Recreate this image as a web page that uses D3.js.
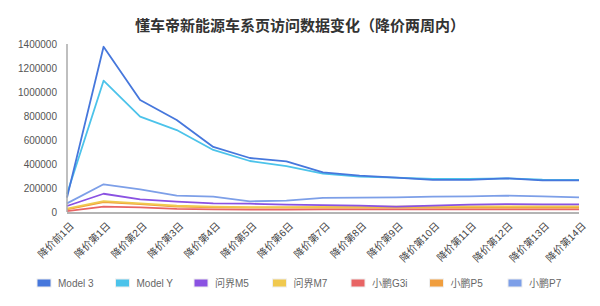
<!DOCTYPE html>
<html>
<head>
<meta charset="utf-8">
<title>懂车帝新能源车系页访问数据变化</title>
<script src="https://cdnjs.cloudflare.com/ajax/libs/d3/7.8.5/d3.min.js"></script>
<style>
body { margin: 0; background: #fff; font-family: "Liberation Sans", "Noto Sans CJK SC", sans-serif; }
.line { fill: none; stroke-width: 1.8px; stroke-linejoin: round; }
</style>
</head>
<body>
<script>
// categories (x axis)
var days = ["降价前1日", "降价第1日", "降价第2日", "降价第3日", "降价第4日", "降价第5日", "降价第6日",
    "降价第7日", "降价第8日", "降价第9日", "降价第10日", "降价第11日", "降价第12日", "降价第13日", "降价第14日"];

var yTicks = [0, 200000, 400000, 600000, 800000, 1000000, 1200000, 1400000];

var seriesNames = ["Model 3", "Model Y", "问界M5", "问界M7", "小鹏G3i", "小鹏P5", "小鹏P7"];
var colors = ["#4677dc", "#4cc3ea", "#8a52e2", "#f0c94f", "#e86464", "#f09e3e", "#7d9fe8"];

var model3 = [120000, 1377000, 933000, 767000, 542000, 450000, 422000, 331000, 303000, 286000, 267000, 267000, 281000, 264000, 264000];
var modelY = [150000, 1094000, 794000, 683000, 517000, 425000, 383000, 319000, 294000, 286000, 275000, 275000, 281000, 270000, 267000];
var m5 = [50000, 152000, 106000, 86000, 72000, 69000, 61000, 58000, 53000, 44000, 53000, 61000, 66000, 64000, 64000];
var m7 = [28000, 90000, 72000, 52000, 44000, 40000, 40000, 42000, 42000, 44000, 46000, 47000, 47000, 47000, 47000];
var g3i = [8000, 44000, 38000, 26000, 22000, 20000, 20000, 22000, 22000, 22000, 22000, 22000, 22000, 22000, 22000];
var p5 = [22000, 83000, 65000, 45000, 38000, 36000, 36000, 36000, 36000, 36000, 36000, 36000, 36000, 36000, 36000];
var p7 = [72000, 231000, 189000, 136000, 128000, 89000, 94000, 117000, 120000, 122000, 128000, 131000, 136000, 131000, 122000];

var seriesValues = [model3, modelY, m5, m7, g3i, p5, p7];

var W = 600, H = 306;
var margin = { top: 44, right: 21, bottom: 94, left: 67 };
var width = W - margin.left - margin.right,
    height = H - margin.top - margin.bottom;

var svg = d3.select("body").append("svg")
    .attr("width", W)
    .attr("height", H);

svg.append("text")
    .attr("x", 300)
    .attr("y", 31)
    .attr("text-anchor", "middle")
    .style("font-family", "'Noto Sans CJK SC', sans-serif")
    .style("font-size", "15px")
    .style("font-weight", "bold")
    .style("fill", "#333")
    .text("懂车帝新能源车系页访问数据变化（降价两周内）");

var g = svg.append("g")
    .attr("transform", "translate(" + margin.left + "," + margin.top + ")");

var x = d3.scalePoint().domain(days).range([0, width]);
var y = d3.scaleLinear().domain([0, 1400000]).range([height, 0]);

// y axis labels
g.selectAll(".ylab").data(yTicks).enter().append("text")
    .attr("class", "ylab")
    .attr("x", -10)
    .attr("y", function(d) { return y(d); })
    .attr("dy", "0.35em")
    .attr("text-anchor", "end")
    .style("font-size", "10px")
    .style("fill", "#555")
    .text(function(d) { return d; });

// x axis labels (rotated)
g.selectAll(".xlab").data(days).enter().append("text")
    .attr("class", "xlab")
    .attr("transform", function(d) { return "translate(" + (x(d) + 5) + "," + (height + 12) + ") rotate(-45)"; })
    .attr("text-anchor", "end")
    .attr("dy", "0.35em")
    .style("font-size", "10px")
    .style("fill", "#444")
    .text(function(d) { return d; });

var line = d3.line()
    .x(function(d, i) { return x(days[i]); })
    .y(function(d) { return y(d); });

// draw from bottom to top so the big series sit on top
var order = [4, 5, 3, 2, 6, 1, 0];
order.forEach(function(k) {
    g.append("path")
        .attr("class", "line")
        .attr("d", line(seriesValues[k]))
        .style("stroke", colors[k]);
});

// axis lines
g.append("line")
    .attr("x1", 0).attr("x2", 0)
    .attr("y1", 0).attr("y2", height)
    .style("stroke", "#aaa")
    .style("stroke-width", 1.5);
g.append("line")
    .attr("x1", 0).attr("x2", width)
    .attr("y1", height + 1).attr("y2", height + 1)
    .style("stroke", "#b4b4b4")
    .style("stroke-width", 2);

// legend
var legend = svg.selectAll(".legend").data(seriesNames).enter().append("g")
    .attr("class", "legend")
    .attr("transform", function(d, i) { return "translate(" + (37 + i * 78.5) + ",283)"; });

legend.append("rect")
    .attr("x", 0).attr("y", -4)
    .attr("width", 14).attr("height", 8)
    .style("fill", function(d, i) { return colors[i]; })
    .style("stroke", "#eee")
    .style("stroke-width", 1);

legend.append("text")
    .attr("x", 21)
    .attr("dy", "0.35em")
    .style("font-size", "10px")
    .style("fill", "#666")
    .text(function(d) { return d; });
</script>
</body>
</html>
